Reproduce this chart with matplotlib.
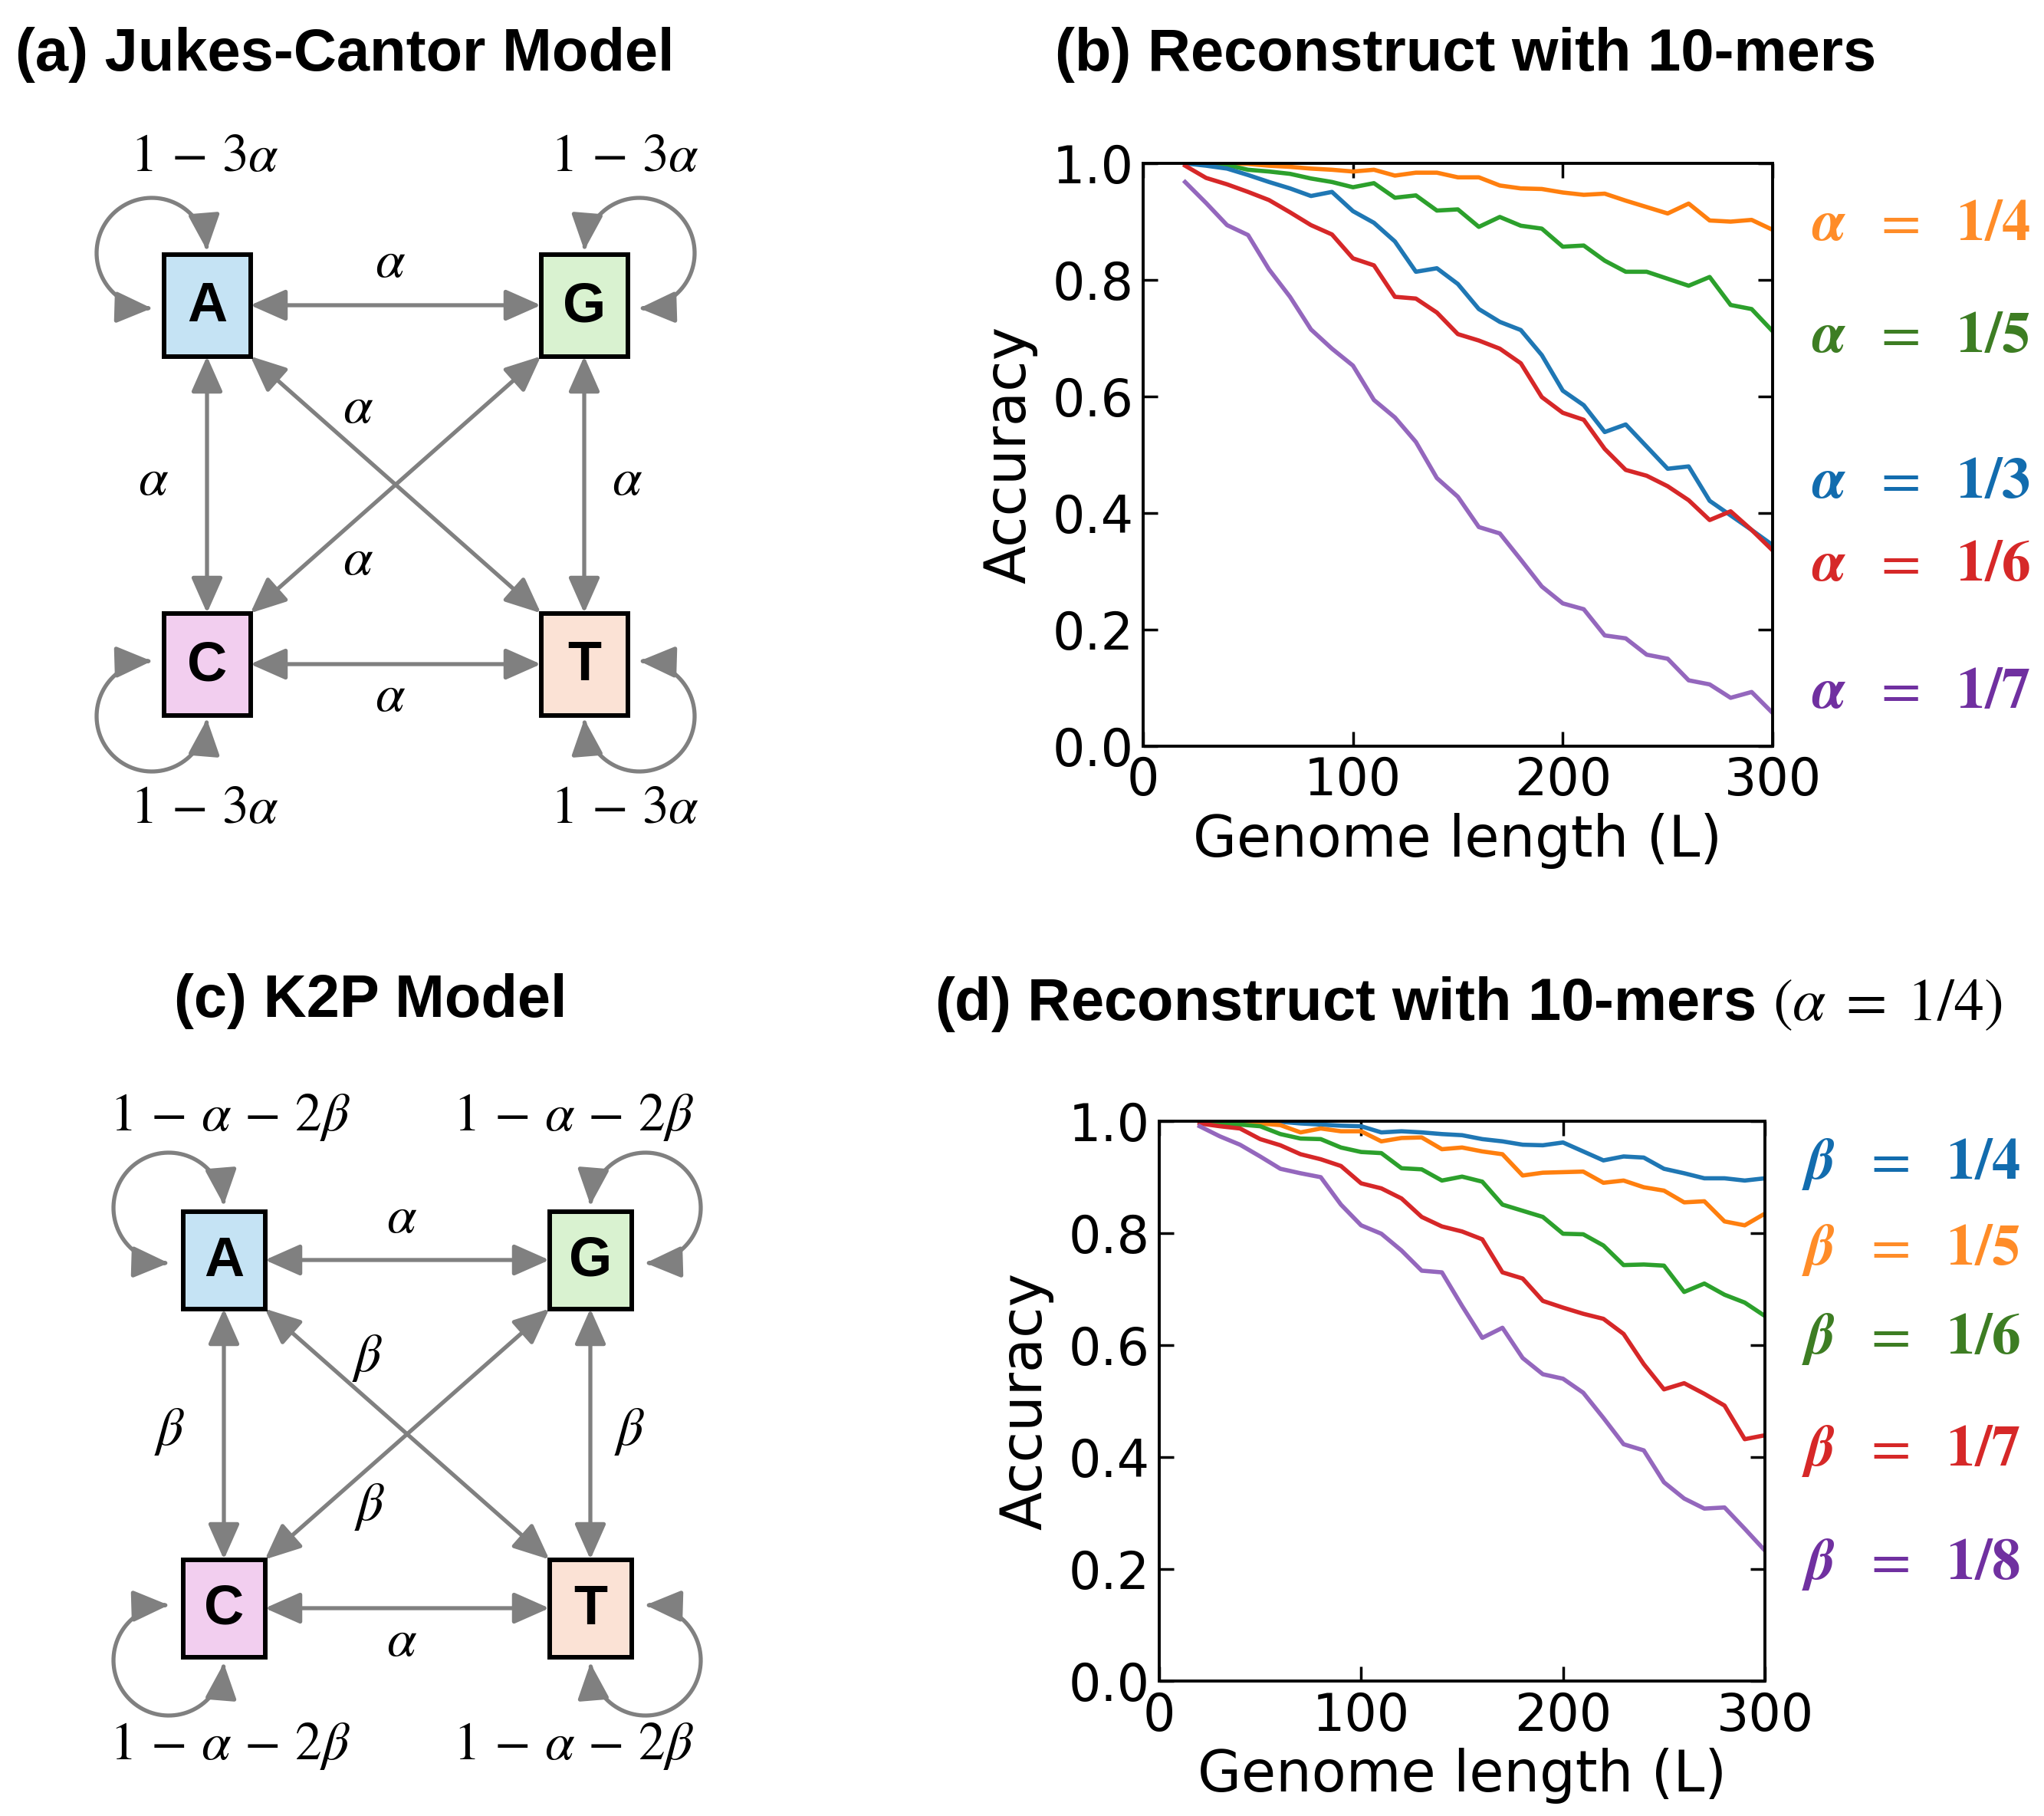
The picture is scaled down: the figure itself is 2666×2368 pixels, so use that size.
import numpy as np
import matplotlib.pyplot as plt
from matplotlib.patches import Rectangle, FancyArrowPatch
from matplotlib.path import Path

plt.rcParams['mathtext.fontset'] = 'stix'

W, H = 2666, 2368

# ---------------- data ----------------
genome_len = [20, 30, 40, 50, 60, 70, 80, 90, 100, 110, 120, 130, 140, 150, 160,
              170, 180, 190, 200, 210, 220, 230, 240, 250, 260, 270, 280, 290, 300]

# (b) Jukes-Cantor, 10-mers
jc_labels = ['1/4', '1/5', '1/3', '1/6', '1/7']
jc_acc = [
    [1.0, 1.0, 1.0, 0.999, 0.996, 0.994, 0.991, 0.989, 0.986, 0.989, 0.979, 0.984, 0.984, 0.976, 0.976,
     0.962, 0.957, 0.956, 0.950, 0.946, 0.948, 0.936, 0.925, 0.914, 0.931, 0.902, 0.900, 0.903, 0.886],
    [1.0, 0.999, 0.997, 0.989, 0.986, 0.982, 0.974, 0.968, 0.959, 0.966, 0.941, 0.945, 0.919, 0.921, 0.891,
     0.908, 0.893, 0.888, 0.857, 0.859, 0.833, 0.814, 0.814, 0.802, 0.790, 0.805, 0.757, 0.750, 0.712],
    [1.0, 0.996, 0.991, 0.980, 0.968, 0.957, 0.944, 0.951, 0.918, 0.898, 0.866, 0.814, 0.820, 0.793, 0.750,
     0.728, 0.714, 0.671, 0.610, 0.585, 0.539, 0.552, 0.514, 0.476, 0.480, 0.421, 0.396, 0.371, 0.345],
    [0.996, 0.975, 0.964, 0.951, 0.937, 0.916, 0.894, 0.878, 0.837, 0.825, 0.771, 0.768, 0.744, 0.707, 0.696,
     0.682, 0.657, 0.599, 0.572, 0.560, 0.510, 0.474, 0.464, 0.446, 0.422, 0.388, 0.403, 0.371, 0.336],
    [0.968, 0.932, 0.894, 0.877, 0.818, 0.771, 0.715, 0.682, 0.653, 0.594, 0.564, 0.522, 0.460, 0.428, 0.376,
     0.365, 0.320, 0.274, 0.245, 0.235, 0.190, 0.185, 0.157, 0.150, 0.113, 0.106, 0.083, 0.093, 0.057],
]
jc_line_colors = ['#ff7f0e', '#2ca02c', '#1f77b4', '#d62728', '#9467bd']
jc_text_colors = ['#FF8C28', '#3D7D23', '#126CAE', '#D62828', '#7030A0']

# (d) K2P, 10-mers, alpha = 1/4
k2p_labels = ['1/4', '1/5', '1/6', '1/7', '1/8']
k2p_acc = [
    [1.0, 1.0, 1.0, 1.0, 0.999, 0.996, 0.994, 0.992, 0.991, 0.980, 0.982, 0.980, 0.977, 0.975, 0.968,
     0.964, 0.958, 0.957, 0.962, 0.946, 0.930, 0.937, 0.935, 0.915, 0.907, 0.898, 0.898, 0.894, 0.898],
    [1.0, 1.0, 1.0, 0.996, 0.993, 0.980, 0.987, 0.982, 0.982, 0.964, 0.970, 0.971, 0.950, 0.953, 0.946,
     0.941, 0.903, 0.908, 0.909, 0.910, 0.890, 0.894, 0.882, 0.876, 0.855, 0.857, 0.821, 0.814, 0.835],
    [1.0, 0.996, 0.994, 0.991, 0.977, 0.969, 0.968, 0.953, 0.945, 0.943, 0.916, 0.914, 0.894, 0.901, 0.892,
     0.851, 0.840, 0.829, 0.799, 0.798, 0.778, 0.743, 0.744, 0.742, 0.695, 0.710, 0.690, 0.676, 0.652],
    [0.996, 0.991, 0.987, 0.968, 0.957, 0.941, 0.932, 0.920, 0.889, 0.880, 0.862, 0.829, 0.812, 0.803, 0.789,
     0.730, 0.719, 0.679, 0.667, 0.656, 0.647, 0.620, 0.566, 0.521, 0.532, 0.513, 0.492, 0.432, 0.439],
    [0.991, 0.973, 0.958, 0.937, 0.915, 0.907, 0.900, 0.851, 0.814, 0.799, 0.769, 0.733, 0.730, 0.670, 0.613,
     0.631, 0.577, 0.548, 0.540, 0.515, 0.470, 0.423, 0.412, 0.355, 0.326, 0.308, 0.310, 0.272, 0.233],
]
k2p_line_colors = ['#1f77b4', '#ff7f0e', '#2ca02c', '#d62728', '#9467bd']
k2p_text_colors = ['#126CAE', '#FF8C28', '#3D7D23', '#D62828', '#7030A0']

nucleotides = ['A', 'G', 'C', 'T']
box_colors = {'A': '#C5E3F4', 'G': '#D9F2D0', 'C': '#F2CEEF', 'T': '#FBE2D5'}

GRAY = '#808080'
ARROW = '<|-|>,head_length=0.95,head_width=0.42'
ARROW_LW = 3.8

fig = plt.figure(figsize=(W / 100, H / 100), dpi=100)

# canvas in pixel coordinates for diagrams and panel titles
cv = fig.add_axes([0, 0, 1, 1])
cv.set_xlim(0, W)
cv.set_ylim(H, 0)
cv.axis('off')


def arrow(p, q):
    cv.add_patch(FancyArrowPatch(p, q, arrowstyle=ARROW, mutation_scale=30, color=GRAY,
                                 lw=ARROW_LW, shrinkA=0, shrinkB=0, zorder=2))


def self_loop(cx, cy, sx, sy):
    # loop around the outer corner of a box
    ox, oy, r = cx + sx * 72, cy + sy * 68, 72
    t = np.radians(np.linspace(90, 357, 80))
    pts = np.column_stack([ox - sx * r * np.cos(t), oy - sy * r * np.sin(t)])
    cv.add_patch(FancyArrowPatch(path=Path(pts), arrowstyle=ARROW, mutation_scale=30, color=GRAY,
                                 lw=ARROW_LW, shrinkA=0, shrinkB=0, zorder=2))


def draw_model(centers, bw, bh, edge_labels, loop_label, loop_pos):
    half_w, half_h = bw / 2, bh / 2
    (ax_, ay), (gx, gy), (cx_, cy_), (tx, ty) = [centers[n] for n in nucleotides]
    # straight transitions
    arrow((ax_ + half_w, ay), (gx - half_w, gy))
    arrow((cx_ + half_w, cy_), (tx - half_w, ty))
    arrow((ax_, ay + half_h), (cx_, cy_ - half_h))
    arrow((gx, gy + half_h), (tx, ty - half_h))
    arrow((ax_ + half_w, ay + half_h), (tx - half_w, ty - half_h))
    arrow((gx - half_w, gy + half_h), (cx_ + half_w, cy_ - half_h))
    # self loops
    self_loop(ax_, ay, -1, -1)
    self_loop(gx, gy, 1, -1)
    self_loop(cx_, cy_, -1, 1)
    self_loop(tx, ty, 1, 1)
    for n in nucleotides:
        x, y = centers[n]
        cv.add_patch(Rectangle((x - half_w, y - half_h), bw, bh, facecolor=box_colors[n],
                               edgecolor='black', lw=4.3, zorder=3))
        cv.text(x, y + 2, n, fontsize=52, fontweight='bold', family='Liberation Sans',
                ha='center', va='center', zorder=4)
    for (x, y), s in edge_labels:
        cv.text(x, y, s, fontsize=50, ha='center', va='center')
    for (x, y) in loop_pos:
        cv.text(x, y, loop_label, fontsize=50, ha='center', va='center')


# (a) Jukes-Cantor
draw_model({'A': (270, 398), 'G': (762, 398), 'C': (270, 866), 'T': (762, 866)}, 113, 133,
           [((509, 341), r'$\alpha$'), ((509, 908), r'$\alpha$'), ((200, 626), r'$\alpha$'),
            ((818, 626), r'$\alpha$'), ((467, 532), r'$\alpha$'), ((467, 729), r'$\alpha$')],
           r'$1\,-\,3\alpha$', [(267, 203), (815, 203), (267, 1054), (815, 1054)])

# (c) K2P
draw_model({'A': (292, 1643), 'G': (770, 1643), 'C': (292, 2097), 'T': (770, 2097)}, 107, 127,
           [((524, 1588), r'$\alpha$'), ((524, 2139), r'$\alpha$'), ((221, 1867), r'$\beta$'),
            ((821, 1867), r'$\beta$'), ((479, 1770), r'$\beta$'), ((482, 1964), r'$\beta$')],
           r'$1\,-\,\alpha\,-\,2\beta$', [(300, 1456), (748, 1456), (300, 2277), (748, 2277)])

title_kw = dict(fontsize=56, fontweight='bold', family='Liberation Sans', va='center')
cv.text(20, 71, '(a) Jukes-Cantor Model', ha='left', **title_kw)
cv.text(1912, 71, '(b) Reconstruct with 10-mers', ha='center', **title_kw)
cv.text(483, 1306, '(c) K2P Model', ha='center', **title_kw)
cv.text(1915, 1309, r'(d) Reconstruct with 10-mers $(\alpha\;=\;1/4)$', ha='center', **title_kw)


def accuracy_panel(rect, series, colors):
    ax = fig.add_axes(rect)
    for ys, c in zip(series, colors):
        ax.plot(genome_len, ys, color=c, lw=4)
    ax.set_xlim(0, 300)
    ax.set_ylim(0, 1)
    ax.set_xticks([0, 100, 200, 300])
    ax.set_yticks([0.0, 0.2, 0.4, 0.6, 0.8, 1.0])
    ax.tick_params(direction='in', top=True, right=True, length=14, width=2.5, labelsize=48, pad=9)
    for s in ax.spines.values():
        s.set_linewidth(2.8)
    ax.set_xlabel('Genome length (L)', fontsize=53, labelpad=6)
    ax.set_ylabel('Accuracy', fontsize=53, labelpad=14)
    return ax


accuracy_panel([1491 / W, 1 - 973 / H, 821 / W, 760 / H], jc_acc, jc_line_colors)
accuracy_panel([1512 / W, 1 - 2192 / H, 790 / W, 730 / H], k2p_acc, k2p_line_colors)

# coloured parameter labels next to the curves
for y, lab, c in zip([292, 439, 629, 736, 903], jc_labels, jc_text_colors):
    cv.text(2363, y, r'$\boldsymbol{\alpha}\ \ =\ \ \mathbf{' + lab + '}$', color=c,
            fontsize=54, ha='left', va='center')
for y, lab, c in zip([1517, 1629, 1746, 1892, 2040], k2p_labels, k2p_text_colors):
    cv.text(2350, y, r'$\boldsymbol{\beta}\ \ =\ \ \mathbf{' + lab + '}$', color=c,
            fontsize=54, ha='left', va='center')

fig.savefig('out.png', dpi=100)
